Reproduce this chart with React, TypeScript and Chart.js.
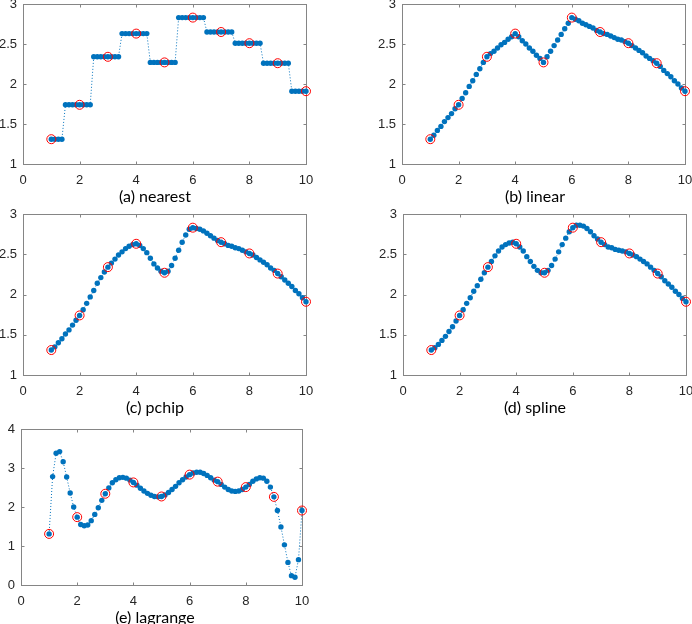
import React, { useEffect, useRef } from "react";
import { Chart, registerables } from "chart.js";

Chart.register(...registerables);

// ---- data ----
const xData = [1, 2, 3, 4, 5, 6, 7, 8, 9, 10];
const yData = [1.31, 1.74, 2.34, 2.63, 2.27, 2.83, 2.65, 2.51, 2.26, 1.91];

const xFine = [
  1, 1.125, 1.25, 1.375, 1.5, 1.625, 1.75, 1.875,
  2, 2.125, 2.25, 2.375, 2.5, 2.625, 2.75, 2.875,
  3, 3.125, 3.25, 3.375, 3.5, 3.625, 3.75, 3.875,
  4, 4.125, 4.25, 4.375, 4.5, 4.625, 4.75, 4.875,
  5, 5.125, 5.25, 5.375, 5.5, 5.625, 5.75, 5.875,
  6, 6.125, 6.25, 6.375, 6.5, 6.625, 6.75, 6.875,
  7, 7.125, 7.25, 7.375, 7.5, 7.625, 7.75, 7.875,
  8, 8.125, 8.25, 8.375, 8.5, 8.625, 8.75, 8.875,
  9, 9.125, 9.25, 9.375, 9.5, 9.625, 9.75, 9.875,
  10,
];

const yNearest = [
  1.31, 1.31, 1.31, 1.31, 1.74, 1.74, 1.74, 1.74,
  1.74, 1.74, 1.74, 1.74, 2.34, 2.34, 2.34, 2.34,
  2.34, 2.34, 2.34, 2.34, 2.63, 2.63, 2.63, 2.63,
  2.63, 2.63, 2.63, 2.63, 2.27, 2.27, 2.27, 2.27,
  2.27, 2.27, 2.27, 2.27, 2.83, 2.83, 2.83, 2.83,
  2.83, 2.83, 2.83, 2.83, 2.65, 2.65, 2.65, 2.65,
  2.65, 2.65, 2.65, 2.65, 2.51, 2.51, 2.51, 2.51,
  2.51, 2.51, 2.51, 2.51, 2.26, 2.26, 2.26, 2.26,
  2.26, 2.26, 2.26, 2.26, 1.91, 1.91, 1.91, 1.91,
  1.91,
];

const yLinear = [
  1.31, 1.36, 1.42, 1.47, 1.53, 1.58, 1.63, 1.69,
  1.74, 1.82, 1.89, 1.97, 2.04, 2.12, 2.19, 2.27,
  2.34, 2.38, 2.41, 2.45, 2.49, 2.52, 2.56, 2.59,
  2.63, 2.59, 2.54, 2.5, 2.45, 2.41, 2.36, 2.32,
  2.27, 2.34, 2.41, 2.48, 2.55, 2.62, 2.69, 2.76,
  2.83, 2.81, 2.79, 2.76, 2.74, 2.72, 2.7, 2.67,
  2.65, 2.63, 2.62, 2.6, 2.58, 2.56, 2.55, 2.53,
  2.51, 2.48, 2.45, 2.42, 2.39, 2.35, 2.32, 2.29,
  2.26, 2.22, 2.17, 2.13, 2.09, 2.04, 2.0, 1.95,
  1.91,
];

const yPchip = [
  1.31, 1.35, 1.4, 1.45, 1.51, 1.56, 1.62, 1.68,
  1.74, 1.81, 1.89, 1.97, 2.05, 2.14, 2.21, 2.28,
  2.34, 2.39, 2.44, 2.49, 2.53, 2.57, 2.6, 2.62,
  2.63, 2.61, 2.57, 2.52, 2.45, 2.38, 2.33, 2.29,
  2.27, 2.29, 2.36, 2.45, 2.55, 2.65, 2.74, 2.81,
  2.83, 2.82, 2.81, 2.79, 2.76, 2.73, 2.7, 2.67,
  2.65, 2.63, 2.61, 2.6, 2.58, 2.57, 2.55, 2.53,
  2.51, 2.49, 2.46, 2.43, 2.4, 2.37, 2.33, 2.3,
  2.26, 2.22, 2.18, 2.14, 2.1, 2.05, 2.01, 1.96,
  1.91,
];

const ySpline = [
  1.31, 1.34, 1.38, 1.43, 1.48, 1.54, 1.6, 1.67,
  1.74, 1.81, 1.89, 1.96, 2.04, 2.11, 2.19, 2.27,
  2.34, 2.41, 2.48, 2.54, 2.59, 2.62, 2.64, 2.65,
  2.63, 2.59, 2.54, 2.47, 2.41, 2.35, 2.3, 2.27,
  2.27, 2.3, 2.36, 2.44, 2.53, 2.62, 2.7, 2.78,
  2.83, 2.86, 2.86, 2.85, 2.82, 2.78, 2.73, 2.69,
  2.65, 2.62, 2.59, 2.58, 2.56, 2.55, 2.54, 2.53,
  2.51, 2.49, 2.47, 2.44, 2.41, 2.38, 2.34, 2.3,
  2.26, 2.22, 2.17, 2.13, 2.09, 2.04, 2.0, 1.95,
  1.91,
];

const yLagrange = [
  1.31, 2.78, 3.38, 3.42, 3.16, 2.77, 2.36, 2.0,
  1.74, 1.55, 1.52, 1.54, 1.65, 1.81, 1.98, 2.17,
  2.34, 2.49, 2.62, 2.7, 2.75, 2.76, 2.74, 2.69,
  2.63, 2.56, 2.48, 2.41, 2.35, 2.3, 2.27, 2.26,
  2.27, 2.31, 2.37, 2.45, 2.53, 2.62, 2.7, 2.77,
  2.83, 2.87, 2.89, 2.89, 2.86, 2.81, 2.75, 2.69,
  2.65, 2.58, 2.51, 2.45, 2.41, 2.4, 2.41, 2.45,
  2.51, 2.58, 2.66, 2.72, 2.75, 2.74, 2.66, 2.51,
  2.26, 1.91, 1.49, 1.03, 0.58, 0.24, 0.2, 0.65,
  1.91,
];

const xTicks = [0, 2, 4, 6, 8, 10];
const yTicksA = [1, 1.5, 2, 2.5, 3];
const yTicksE = [0, 1, 2, 3, 4];

// ---- styles ----
const BLUE = "#0072BD";
const RED = "#FF0000";
const AXIS = "#858585";
const TEXT = "#262626";
const TICK_FONT = { family: "'Liberation Sans', Arial, sans-serif", size: 13 };

const PAD_L = 40;
const PAD_T = 8;
const PAD_R = 8;
const PAD_B = 24;

const boxPlugin = {
  id: "matlabBox",
  beforeDatasetsDraw(chart: any) {
    const { ctx, chartArea: a, scales } = chart;
    ctx.save();
    ctx.strokeStyle = AXIS;
    ctx.lineWidth = 1;
    const L = Math.round(a.left) + 0.5;
    const R = Math.round(a.right) + 0.5;
    const T = Math.round(a.top) + 0.5;
    const B = Math.round(a.bottom) + 0.5;
    ctx.strokeRect(L, T, R - L, B - T);
    const tl = 3;
    ctx.beginPath();
    scales.x.ticks.forEach((t: any) => {
      const px = Math.round(scales.x.getPixelForValue(t.value)) + 0.5;
      ctx.moveTo(px, B);
      ctx.lineTo(px, B - tl);
      ctx.moveTo(px, T);
      ctx.lineTo(px, T + tl);
    });
    scales.y.ticks.forEach((t: any) => {
      const py = Math.round(scales.y.getPixelForValue(t.value)) + 0.5;
      ctx.moveTo(L, py);
      ctx.lineTo(L + tl, py);
      ctx.moveTo(R, py);
      ctx.lineTo(R - tl, py);
    });
    ctx.stroke();
    ctx.restore();
  },
};

type Box = { l: number; t: number; r: number; b: number };

function Plot(props: {
  box: Box;
  ys: number[];
  yMin: number;
  yMax: number;
  yTicks: number[];
  caption: string;
  capX: number;
}) {
  const { box, ys, yMin, yMax, yTicks, caption, capX } = props;
  const ref = useRef<HTMLCanvasElement | null>(null);
  const w = box.r - box.l + PAD_L + PAD_R;
  const h = box.b - box.t + PAD_T + PAD_B;

  useEffect(() => {
    if (!ref.current) return;
    const chart = new Chart(ref.current, {
      type: "line",
      data: {
        datasets: [
          {
            data: xData.map((x, i) => ({ x, y: yData[i] })),
            showLine: false,
            pointRadius: 4.5,
            pointBackgroundColor: "rgba(0,0,0,0)",
            pointBorderColor: RED,
            pointBorderWidth: 1,
            clip: false,
          } as any,
          {
            data: xFine.map((x, i) => ({ x, y: ys[i] })),
            borderColor: BLUE,
            borderWidth: 1,
            borderDash: [1, 2],
            pointRadius: 2.7,
            pointBackgroundColor: BLUE,
            pointBorderWidth: 0,
            tension: 0,
            clip: false,
          } as any,
        ],
      },
      options: {
        animation: false,
        responsive: false,
        maintainAspectRatio: false,
        devicePixelRatio: 1,
        events: [],
        layout: { padding: { top: PAD_T, right: PAD_R, left: 0, bottom: 0 } },
        plugins: {
          legend: { display: false },
          tooltip: { enabled: false },
          title: { display: false },
        },
        scales: {
          x: {
            type: "linear",
            min: 0,
            max: 10,
            afterFit: (s: any) => {
              s.height = PAD_B;
              s.paddingLeft = 0;
              s.paddingRight = 0;
            },
            afterBuildTicks: (s: any) => {
              s.ticks = xTicks.map((v) => ({ value: v }));
            },
            grid: { display: false, drawTicks: false },
            border: { display: false },
            ticks: {
              padding: 9,
              color: TEXT,
              font: TICK_FONT,
              maxRotation: 0,
              autoSkip: false,
              callback: (v: any) => String(v),
            },
          },
          y: {
            type: "linear",
            min: yMin,
            max: yMax,
            afterFit: (s: any) => {
              s.width = PAD_L;
              s.paddingTop = 0;
              s.paddingBottom = 0;
            },
            afterBuildTicks: (s: any) => {
              s.ticks = yTicks.map((v) => ({ value: v }));
            },
            grid: { display: false, drawTicks: false },
            border: { display: false },
            ticks: {
              padding: 6,
              color: TEXT,
              font: TICK_FONT,
              autoSkip: false,
              callback: (v: any) => String(v),
            },
          },
        },
      } as any,
      plugins: [boxPlugin],
    });
    return () => chart.destroy();
  }, []);

  return (
    <>
      <div
        style={{
          position: "absolute",
          left: box.l - PAD_L,
          top: box.t - PAD_T,
          width: w,
          height: h,
        }}
      >
        <canvas ref={ref} width={w} height={h} style={{ width: w, height: h, display: "block" }} />
      </div>
      <div
        style={{
          position: "absolute",
          left: capX - 100,
          width: 200,
          top: box.b + 22,
          height: 20,
          lineHeight: "20px",
          textAlign: "center",
          fontFamily: "Lato, 'Open Sans', sans-serif",
          fontSize: 16,
          color: "#000",
          whiteSpace: "nowrap",
        }}
      >
        {caption}
      </div>
    </>
  );
}

export default function App() {
  return (
    <div
      style={{
        position: "absolute",
        left: 0,
        top: 0,
        width: 692,
        height: 624,
        background: "#fff",
        overflow: "hidden",
      }}
    >
      <Plot box={{ l: 23, t: 4, r: 306, b: 164 }} ys={yNearest} yMin={1} yMax={3} yTicks={yTicksA} caption="(a) nearest" capX={155} />
      <Plot box={{ l: 402, t: 4, r: 685, b: 164 }} ys={yLinear} yMin={1} yMax={3} yTicks={yTicksA} caption="(b) linear" capX={535} />
      <Plot box={{ l: 23, t: 214, r: 306, b: 375 }} ys={yPchip} yMin={1} yMax={3} yTicks={yTicksA} caption="(c) pchip" capX={155} />
      <Plot box={{ l: 403, t: 214, r: 686, b: 375 }} ys={ySpline} yMin={1} yMax={3} yTicks={yTicksA} caption="(d) spline" capX={535} />
      <Plot box={{ l: 21, t: 429, r: 302, b: 585 }} ys={yLagrange} yMin={0} yMax={4} yTicks={yTicksE} caption="(e) lagrange" capX={155} />
    </div>
  );
}
